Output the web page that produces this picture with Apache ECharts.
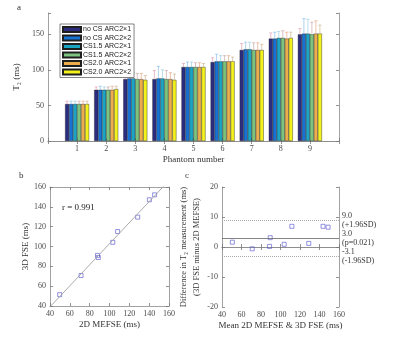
<!DOCTYPE html>
<html>
<head>
<meta charset="utf-8">
<script src="https://cdn.jsdelivr.net/npm/echarts@6/dist/echarts.min.js"></script>
<style>
  html, body { margin: 0; padding: 0; background: #fff; }
  #chart { width: 400px; height: 338px; }
</style>
</head>
<body>
<div id="chart"></div>
<script>
// panel a: T2 per phantom for each acquisition
const phantoms = ['1', '2', '3', '4', '5', '6', '7', '8', '9'];
const seriesNames = ['no CS ARC2\u00d71', 'no CS ARC2\u00d72', 'CS1.5 ARC2\u00d71', 'CS1.5 ARC2\u00d72', 'CS2.0 ARC2\u00d71', 'CS2.0 ARC2\u00d72'];
const barColors = ['#2c2d80', '#1772d4', '#1ba4c4', '#7cc47e', '#ecae4c', '#f4f21c'];
const errColors = ['#e2a0b4', '#8cc0ea', '#9ccde0', '#c9a8a8', '#e6a888', '#cdb890'];

const noCs1 = [52, 72, 87, 87, 104, 111, 128, 144, 150];
const noCs2 = [52, 72, 88, 88, 104, 112, 129, 144, 151];
const cs15x1 = [52, 72, 88, 88, 104, 112, 129, 145, 151];
const cs15x2 = [52, 72, 87, 87, 104, 112, 128, 145, 150];
const cs20x1 = [52, 72, 87, 87, 104, 112, 128, 144, 151];
const cs20x2 = [52, 73, 86, 86, 104, 112, 128, 145, 151];

const errNoCs1 = [4, 4, 14, 12, 5, 6, 9, 8, 8];
const errNoCs2 = [4, 5, 8, 17, 7, 10, 10, 9, 21];
const errCs15x1 = [4, 4, 8, 12, 7, 8, 10, 9, 20];
const errCs15x2 = [4, 4, 8, 12, 6, 8, 10, 10, 17];
const errCs20x1 = [4, 5, 8, 9, 6, 8, 10, 9, 18];
const errCs20x2 = [4, 4, 6, 8, 5, 6, 8, 8, 12];

// panel b / c: 2D MEFSE vs 3D FSE
const mefse2d = [49.8, 71.3, 88.7, 87.9, 103.3, 108.2, 128.4, 140.2, 145.5];
const fse3d = [51.4, 70.7, 88.9, 91.0, 104.2, 115.1, 129.6, 147.1, 152.1];
const blandLimits = [9.0, 3.0, -3.1];
const blandLabels = ['9.0\n(+1.96SD)', '3.0\n(p=0.021)', '-3.1\n(-1.96SD)'];

const allBars = [noCs1, noCs2, cs15x1, cs15x2, cs20x1, cs20x2];
const allErrs = [errNoCs1, errNoCs2, errCs15x1, errCs15x2, errCs20x1, errCs20x2];

const serif = 'Liberation Serif';
const BAR_W = 4;
const catData = [''].concat(phantoms, ['']);

const tickStyle = { show: true, inside: true, length: 3, lineStyle: { color: '#777', width: 0.8 } };
const lineStyle = { show: true, lineStyle: { color: '#8a8a8a', width: 0.8 } };
const labelStyle = { fontFamily: serif, fontSize: 8, color: '#4a4a4a' };
const nameStyle = { fontFamily: serif, fontSize: 9, color: '#333' };

function boxAxes(grid, xOpt, yOpt) {
  const xs = [
    Object.assign({ gridIndex: grid, position: 'bottom', axisLine: lineStyle, axisTick: tickStyle,
      axisLabel: Object.assign({ margin: 4 }, labelStyle), splitLine: { show: false }, nameTextStyle: nameStyle }, xOpt),
    Object.assign({ gridIndex: grid, position: 'top', axisLine: lineStyle, axisTick: tickStyle,
      axisLabel: { show: false }, splitLine: { show: false } }, xOpt, { name: '' })
  ];
  const ys = [
    Object.assign({ gridIndex: grid, position: 'left', axisLine: lineStyle, axisTick: tickStyle,
      axisLabel: Object.assign({ margin: 4 }, labelStyle), splitLine: { show: false }, nameTextStyle: nameStyle }, yOpt),
    Object.assign({ gridIndex: grid, position: 'right', axisLine: lineStyle, axisTick: tickStyle,
      axisLabel: { show: false }, splitLine: { show: false } }, yOpt, { name: '' })
  ];
  return [xs, ys];
}

const [ax, ay] = boxAxes(0,
  { type: 'category', data: catData, boundaryGap: false, name: 'Phantom number',
    nameLocation: 'middle', nameGap: 14 },
  { type: 'value', min: 0, max: 180, interval: 50, name: 'T\u2082 (ms)', nameLocation: 'middle', nameGap: 15 });
ax.forEach(a => { a.axisTick = Object.assign({}, tickStyle, { interval: 0 }); if (a.axisLabel.show !== false) a.axisLabel.interval = 0; });
ay[0].axisLabel.formatter = v => (v % 50 === 0 ? String(v) : '');

const [bx, by] = boxAxes(1,
  { type: 'value', min: 40, max: 160, interval: 20, name: '2D MEFSE (ms)', nameLocation: 'middle', nameGap: 14 },
  { type: 'value', min: 40, max: 160, interval: 20, name: '3D FSE (ms)', nameLocation: 'middle', nameGap: 14 });

const [cx, cy] = boxAxes(2,
  { type: 'value', min: 40, max: 160, interval: 20, name: 'Mean 2D MEFSE & 3D FSE (ms)', nameLocation: 'middle', nameGap: 14 },
  { type: 'value', min: -20, max: 20, interval: 10, name: 'Difference in T\u2082 measurement (ms)\n(3D FSE minus 2D MEFSE)',
    nameLocation: 'middle', nameGap: 10 });
cy[0].nameTextStyle = Object.assign({}, nameStyle, { fontSize: 8.5, lineHeight: 13 });

const series = [];
allBars.forEach((vals, k) => {
  series.push({
    name: seriesNames[k], type: 'bar', xAxisIndex: 0, yAxisIndex: 0,
    data: ['-'].concat(vals, ['-']),
    barWidth: BAR_W, barGap: '0%',
    itemStyle: { color: barColors[k], borderColor: '#1e1e1e', borderWidth: 0.4 },
    emphasis: { disabled: true }, silent: true
  });
});

const errData = [];
allBars.forEach((vals, k) => vals.forEach((v, i) => errData.push([i + 1, v, allErrs[k][i], k])));
series.push({
  type: 'custom', xAxisIndex: 0, yAxisIndex: 0, data: errData, silent: true, z: 3,
  renderItem: (params, api) => {
    const k = api.value(3);
    const p0 = api.coord([api.value(0), api.value(1)]);
    const p1 = api.coord([api.value(0), api.value(1) + api.value(2)]);
    const x = p0[0] + (k - 2.5) * BAR_W;
    const st = { stroke: errColors[k], lineWidth: 0.7 };
    return { type: 'group', children: [
      { type: 'line', shape: { x1: x, y1: p0[1], x2: x, y2: p1[1] }, style: st },
      { type: 'line', shape: { x1: x - 1.6, y1: p1[1], x2: x + 1.6, y2: p1[1] }, style: st }
    ] };
  }
});

// least-squares fit line for panel b
const n = mefse2d.length;
const mx = mefse2d.reduce((s, v) => s + v, 0) / n;
const my = fse3d.reduce((s, v) => s + v, 0) / n;
let sxy = 0, sxx = 0;
for (let i = 0; i < n; i++) { sxy += (mefse2d[i] - mx) * (fse3d[i] - my); sxx += (mefse2d[i] - mx) ** 2; }
const slope = sxy / sxx, icpt = my - slope * mx;
series.push({
  type: 'line', xAxisIndex: 2, yAxisIndex: 2, data: [[40, slope * 40 + icpt], [160, slope * 160 + icpt]],
  symbol: 'none', clip: true, silent: true, lineStyle: { color: '#a0a0a0', width: 0.9 }
});
const sq = { type: 'scatter', symbol: 'rect', symbolSize: 4, silent: true,
  itemStyle: { color: 'rgba(0,0,0,0)', borderColor: '#5555cc', borderWidth: 0.8 } };
series.push(Object.assign({}, sq, { xAxisIndex: 2, yAxisIndex: 2, data: mefse2d.map((v, i) => [v, fse3d[i]]) }));

series.push(Object.assign({}, sq, {
  xAxisIndex: 4, yAxisIndex: 4,
  data: mefse2d.map((v, i) => [(v + fse3d[i]) / 2, fse3d[i] - v]),
  markLine: {
    silent: true, symbol: 'none',
    label: { position: 'end', formatter: '{b}', fontFamily: serif, fontSize: 8, color: '#333',
      lineHeight: 9, distance: [3, 3] },
    data: blandLimits.map((v, i) => ({
      yAxis: v, name: blandLabels[i],
      lineStyle: i === 1 ? { color: '#666', width: 0.8, type: 'solid' } : { color: '#aaa', width: 1, type: 'dotted' }
    }))
  }
}));

const chart = echarts.init(document.getElementById('chart'), null, { renderer: 'canvas' });
chart.setOption({
  animation: false,
  backgroundColor: '#fff',
  grid: [
    { left: 48, top: 13, width: 291, height: 128 },
    { left: 50, top: 187, width: 119, height: 119 },
    { left: 222, top: 187, width: 117, height: 120 }
  ],
  xAxis: ax.concat(bx, cx),
  yAxis: ay.concat(by, cy),
  legend: {
    data: seriesNames, orient: 'vertical', left: 60, top: 24,
    itemWidth: 18, itemHeight: 5, itemGap: 1.5, icon: 'rect',
    borderColor: '#333', borderWidth: 0.6, borderRadius: 0, padding: [2, 3, 2, 2],
    backgroundColor: '#fff', selectedMode: false,
    textStyle: { fontFamily: 'Liberation Sans', fontSize: 7, color: '#222', padding: [0, 0, 0, -3] }
  },
  graphic: [
    { type: 'text', left: 17, top: 3, style: { text: 'a', font: '9px "Liberation Serif"', fill: '#333' } },
    { type: 'text', left: 19, top: 171, style: { text: 'b', font: '9px "Liberation Serif"', fill: '#333' } },
    { type: 'text', left: 185, top: 171, style: { text: 'c', font: '9px "Liberation Serif"', fill: '#333' } },
    { type: 'text', left: 62, top: 203, style: { text: 'r = 0.991', font: '9px "Liberation Serif"', fill: '#222' } }
  ],
  series: series
});
</script>
</body>
</html>
